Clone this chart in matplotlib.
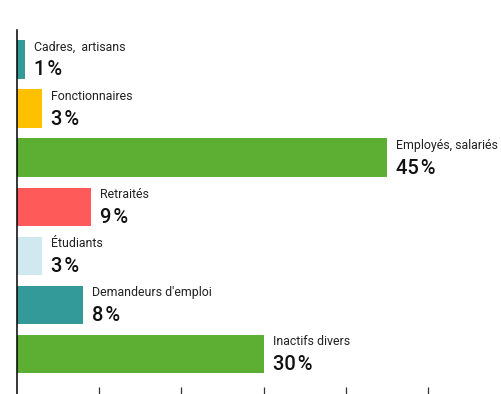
import matplotlib.pyplot as plt

# Répartition par catégorie (en %)
categories = ["Cadres,  artisans", "Fonctionnaires", "Employés, salariés", "Retraités",
              "Étudiants", "Demandeurs d'emploi", "Inactifs divers"]
values = [1, 3, 45, 9, 3, 8, 30]
colors = ["#339999", "#FFC000", "#5DAF34", "#FF5A5A", "#D0E9F0", "#339999", "#5DAF34"]
xticks = [10, 20, 30, 40, 50]

plt.rcParams['font.family'] = ['Roboto', 'DejaVu Sans']

fig = plt.figure(figsize=(5.02, 3.94), dpi=100)
ax = fig.add_axes([17 / 502, 0, 1 - 17 / 502, 364 / 394])

ypos = list(range(len(categories)))
ax.barh(ypos, values, height=0.78, color=colors)
ax.set_xlim(0, 59.0)
ax.set_ylim(6.815, -0.6)

for y, name, v in zip(ypos, categories, values):
    ax.annotate(name, (v, y), xytext=(6.5, 6.5), textcoords='offset points',
                ha='left', va='baseline', fontsize=8.9, color='#222222')
    ax.annotate(f"{v}\u200a%", (v, y), xytext=(6.5, -11.5), textcoords='offset points',
                ha='left', va='baseline', fontsize=14.5, fontweight='medium', color='#111111')

for s in ['top', 'right', 'bottom']:
    ax.spines[s].set_visible(False)
ax.spines['left'].set_linewidth(1.1)
ax.spines['left'].set_color('black')

ax.set_yticks([])
ax.set_xticks(xticks)
ax.set_xticklabels([])
ax.tick_params(axis='x', direction='in', length=5, width=0.9, color='#333333')

fig.savefig('out.png', dpi=100)
